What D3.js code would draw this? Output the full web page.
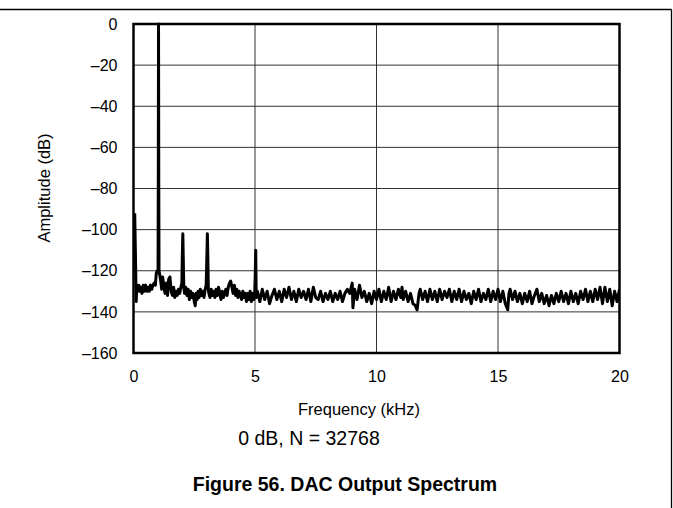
<!DOCTYPE html>
<html>
<head>
<meta charset="utf-8">
<script src="https://cdn.jsdelivr.net/npm/d3@7"></script>
<style>
  html, body { margin: 0; padding: 0; background: #fff; }
  svg { display: block; }
  text { font-family: "Liberation Sans", Arial, Helvetica, sans-serif; fill: #000; }
</style>
</head>
<body>
<svg id="chart" width="673" height="508"></svg>
<script>
// ---- Data ----
const xTicks = [0, 5, 10, 15, 20];                 // kHz
const yTicks = [0, -20, -40, -60, -80, -100, -120, -140, -160]; // dB
const xTickLabels = ["0", "5", "10", "15", "20"];
const yTickLabels = ["0", "–20", "–40", "–60", "–80", "–100", "–120", "–140", "–160"];

// spectrum trace: frequency (kHz) and amplitude (dB)
const freqKHz = [
  0.05, 0.08, 0.11, 0.14, 0.18, 0.22, 0.26, 0.30, 0.35, 0.40, 0.45, 0.50, 0.55, 0.60, 0.65, 0.70, 0.75, 0.80, 0.85, 0.90, 0.94, 0.98, 1.01, 1.02, 1.03, 1.04, 1.05, 1.08,
  1.12, 1.16, 1.20, 1.25, 1.30, 1.35, 1.40, 1.45, 1.50, 1.55, 1.60, 1.65, 1.70, 1.75, 1.80, 1.85, 1.90, 1.95, 1.99, 2.01, 2.03, 2.05, 2.07,
  2.10, 2.15, 2.20, 2.25, 2.30, 2.35, 2.40, 2.45, 2.50, 2.54, 2.58, 2.62, 2.66, 2.70, 2.75, 2.80, 2.85, 2.90, 2.95, 2.99, 3.02, 3.04, 3.06, 3.08,
  3.10, 3.15, 3.20, 3.25, 3.30, 3.35, 3.40, 3.45, 3.50, 3.55, 3.60, 3.65, 3.70, 3.75, 3.80, 3.85, 3.90, 3.95, 4.00, 4.05,
  4.10, 4.15, 4.20, 4.25, 4.30, 4.35, 4.40, 4.45, 4.50, 4.55, 4.60, 4.65, 4.70, 4.75, 4.80, 4.85, 4.90, 4.95, 4.99, 5.01, 5.03, 5.05,
  5.10, 5.20, 5.30, 5.40, 5.50, 5.60, 5.70, 5.80, 5.90, 6.00,
  6.10, 6.20, 6.30, 6.40, 6.50, 6.60, 6.70, 6.80, 6.90, 7.00,
  7.10, 7.20, 7.30, 7.40, 7.50, 7.60, 7.70, 7.80, 7.90, 8.00,
  8.10, 8.20, 8.30, 8.40, 8.50, 8.60, 8.70, 8.80, 8.90, 9.00, 9.03,
  9.10, 9.20, 9.30, 9.40, 9.50, 9.60, 9.70, 9.80, 9.90, 10.00,
  10.10, 10.20, 10.30, 10.40, 10.50, 10.60, 10.70, 10.80, 10.90, 11.00, 11.05,
  11.10, 11.20, 11.30, 11.40, 11.50, 11.60, 11.67, 11.75, 11.80, 11.90, 12.00,
  12.10, 12.20, 12.30, 12.40, 12.50, 12.60, 12.70, 12.80, 12.90, 13.00,
  13.10, 13.20, 13.30, 13.40, 13.50, 13.60, 13.70, 13.80, 13.90, 14.00,
  14.10, 14.20, 14.30, 14.40, 14.50, 14.60, 14.70, 14.80, 14.90, 15.00,
  15.10, 15.20, 15.30, 15.40, 15.45, 15.50, 15.60, 15.70, 15.80, 15.90, 16.00,
  16.10, 16.20, 16.30, 16.40, 16.50, 16.60, 16.70, 16.80, 16.90, 17.00,
  17.10, 17.20, 17.30, 17.40, 17.50, 17.60, 17.70, 17.80, 17.90, 18.00,
  18.10, 18.20, 18.30, 18.40, 18.50, 18.60, 18.70, 18.80, 18.90, 19.00,
  19.10, 19.20, 19.30, 19.40, 19.50, 19.60, 19.70, 19.80, 19.90, 20.00
];
const amplitudeDb = [
  -92, -112, -135, -127, -130, -127, -130, -128, -131, -127, -130, -127, -130, -128, -130, -127, -129, -127, -126, -127, -121, -120, -121, -77, 0, -77, -120, -122,
  -125, -129, -123, -128, -131, -126, -132, -124, -123, -130, -132, -128, -133, -130, -132, -129, -131, -128, -126, -112, -102, -115, -128,
  -131, -128, -132, -129, -134, -130, -133, -131, -135, -137, -131, -134, -130, -133, -129, -132, -130, -133, -129, -127, -113, -102, -114, -129,
  -131, -133, -129, -132, -130, -133, -129, -132, -128, -131, -134, -130, -133, -131, -129, -132, -128, -126, -125, -128,
  -131, -127, -132, -129, -133, -130, -132, -134, -130, -133, -131, -135, -131, -134, -130, -135, -131, -134, -130, -122, -110, -133,
  -130, -135, -129, -134, -130, -136, -132, -129, -134, -130,
  -135, -129, -133, -128, -134, -130, -135, -129, -133, -130,
  -134, -129, -135, -128, -133, -134, -130, -135, -131, -134,
  -130, -135, -131, -134, -130, -135, -131, -129, -131, -126, -138,
  -129, -134, -127, -133, -130, -135, -131, -136, -130, -134,
  -129, -135, -130, -134, -128, -135, -130, -134, -129, -133, -128,
  -134, -130, -135, -131, -136, -137, -139, -131, -129, -134, -130,
  -135, -129, -134, -130, -135, -129, -134, -130, -133, -129,
  -135, -130, -134, -129, -135, -130, -134, -131, -136, -130,
  -134, -129, -135, -131, -134, -129, -135, -130, -134, -129,
  -135, -130, -136, -139, -131, -129, -134, -130, -135, -131, -136,
  -131, -135, -130, -136, -132, -129, -135, -131, -136, -132,
  -137, -132, -136, -131, -135, -130, -135, -131, -136, -130,
  -135, -131, -136, -130, -134, -129, -135, -130, -135, -129,
  -134, -128, -136, -128, -135, -129, -137, -130, -135, -129
];

const xAxisTitle = "Frequency (kHz)";
const yAxisTitle = "Amplitude (dB)";
const subTitle = "0 dB, N = 32768";
const figureTitle = "Figure 56. DAC Output Spectrum";

// ---- Layout ----
const svg = d3.select("#chart");
const plot = { left: 133.5, right: 619.5, top: 24, bottom: 353 };

const x = d3.scaleLinear().domain([0, 20]).range([plot.left, plot.right]);
const y = d3.scaleLinear().domain([-160, 0]).range([plot.bottom, plot.top]);

// page frame (top and right rule)
svg.append("line").attr("x1", 0).attr("x2", 671.5).attr("y1", 9.5).attr("y2", 9.5)
  .attr("stroke", "#000").attr("stroke-width", 1.3);
svg.append("line").attr("x1", 671.5).attr("x2", 671.5).attr("y1", 9.5).attr("y2", 508)
  .attr("stroke", "#000").attr("stroke-width", 1.3);

// grid
const grid = svg.append("g");
grid.selectAll("line.v").data(xTicks.slice(1, -1)).enter().append("line")
  .attr("x1", d => x(d)).attr("x2", d => x(d))
  .attr("y1", plot.top).attr("y2", plot.bottom)
  .attr("stroke", "#333").attr("stroke-width", 1);
grid.selectAll("line.h").data(yTicks.slice(1, -1)).enter().append("line")
  .attr("x1", plot.left).attr("x2", plot.right)
  .attr("y1", d => y(d)).attr("y2", d => y(d))
  .attr("stroke", "#333").attr("stroke-width", 1);

// trace
const pts = freqKHz.map((f, i) => [f, amplitudeDb[i]]);
svg.append("defs").append("clipPath").attr("id", "clip")
  .append("rect").attr("x", plot.left).attr("y", plot.top - 2)
  .attr("width", plot.right - plot.left).attr("height", plot.bottom - plot.top + 2);
svg.append("path")
  .datum(pts)
  .attr("clip-path", "url(#clip)")
  .attr("fill", "none")
  .attr("stroke", "#000")
  .attr("stroke-width", 3)
  .attr("stroke-linejoin", "round")
  .attr("d", d3.line().x(d => x(d[0])).y(d => y(d[1])));

// plot frame
svg.append("rect")
  .attr("x", plot.left).attr("y", plot.top)
  .attr("width", plot.right - plot.left).attr("height", plot.bottom - plot.top)
  .attr("fill", "none").attr("stroke", "#000").attr("stroke-width", 2.5);

// axes (labels only, via d3 axes)
const xAxis = d3.axisBottom(x).tickValues(xTicks)
  .tickFormat((d, i) => xTickLabels[i]).tickSize(0).tickPadding(0);
const gx = svg.append("g").attr("transform", `translate(0,${plot.bottom + 18})`).call(xAxis);
gx.select(".domain").remove();
gx.selectAll("text").attr("font-size", 16).attr("font-family", "Liberation Sans, Arial, sans-serif").attr("fill", "#000");

const yAxis = d3.axisLeft(y).tickValues(yTicks)
  .tickFormat((d, i) => yTickLabels[i]).tickSize(0).tickPadding(0);
const gy = svg.append("g").attr("transform", `translate(${plot.left - 16},0)`).call(yAxis);
gy.select(".domain").remove();
gy.selectAll("text").attr("font-size", 16).attr("font-family", "Liberation Sans, Arial, sans-serif").attr("fill", "#000");

// titles
svg.append("text").attr("x", 359).attr("y", 415).attr("text-anchor", "middle")
  .attr("font-size", 16.5).text(xAxisTitle);
svg.append("text").attr("transform", "translate(50,188) rotate(-90)")
  .attr("text-anchor", "middle").attr("font-size", 16.5).text(yAxisTitle);
svg.append("text").attr("x", 309).attr("y", 445).attr("text-anchor", "middle")
  .attr("font-size", 19.5).text(subTitle);
svg.append("text").attr("x", 345).attr("y", 491).attr("text-anchor", "middle")
  .attr("font-size", 19.5).attr("font-weight", "bold").text(figureTitle);
</script>
</body>
</html>
